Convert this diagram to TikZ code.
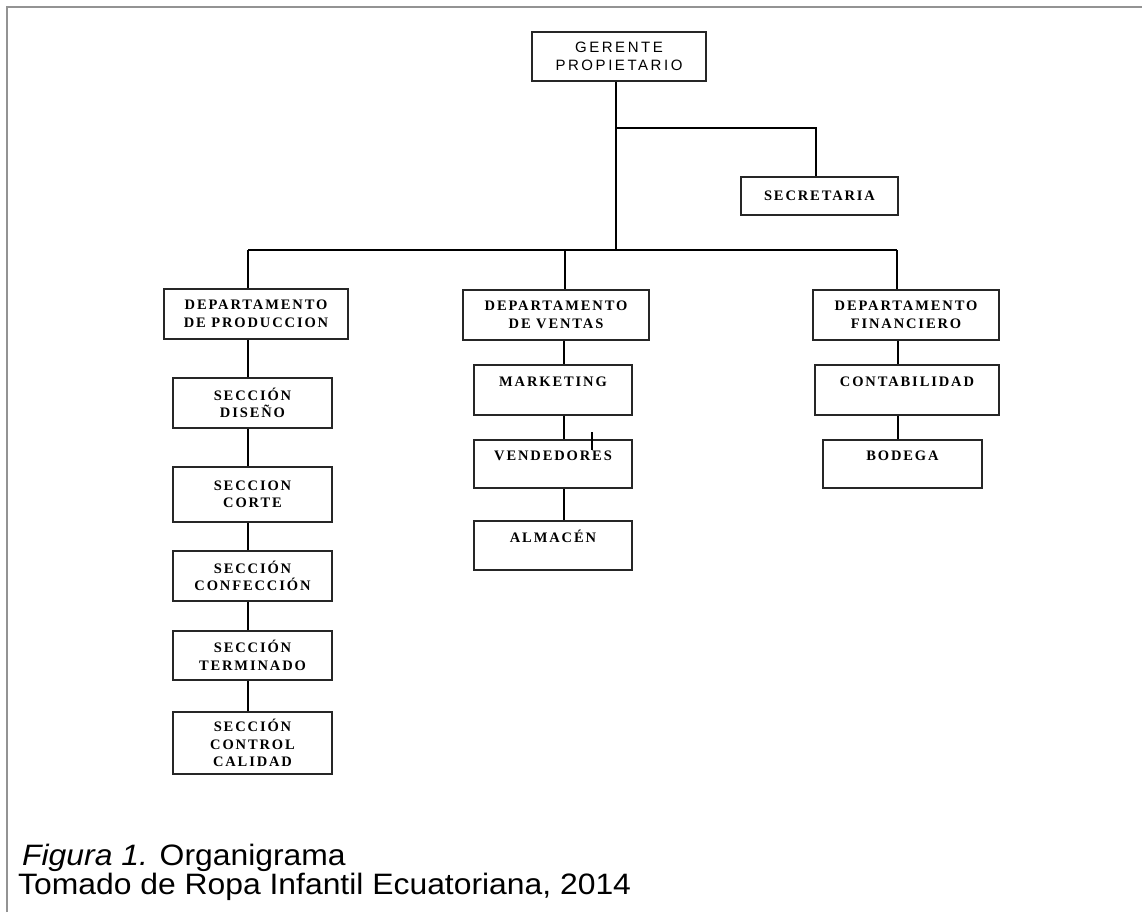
\documentclass[tikz,border=0pt]{standalone}
\usepackage{fontspec}
\setmainfont{Liberation Serif}
\newfontfamily\boxfont[LetterSpace=13]{Liberation Serif}
\newfontfamily\headfont[LetterSpace=17]{Liberation Sans}
\newfontfamily\capfont[FakeStretch=1.08]{Liberation Sans}
\begin{document}
\begin{tikzpicture}[x=1pt,y=-1pt,
  orgbox/.style={draw=black!85, line width=1.3pt, fill=white, inner sep=0pt,
    align=center, text=black, font=\boxfont\bfseries\fontsize{14.5}{17.5}\selectfont},
  headbox/.style={orgbox, font=\headfont\fontsize{15}{18}\selectfont},
  caption/.style={anchor=base west, inner sep=0pt, font=\capfont\fontsize{29.5}{29}\selectfont},
  link/.style={line width=1.3pt, black}]
\useasboundingbox (0,0) rectangle (1142,912);
% page frame
\draw[gray!85, line width=2pt] (7,912) -- (7,7) -- (1142,7);

% boxes
\node[headbox, minimum width=174, minimum height=49] (ger) at (619,56.5) {GERENTE\\PROPIETARIO};
\node[orgbox, minimum width=157, minimum height=38] (sec) at (819.5,196) {SECRETARIA};
\node[orgbox, minimum width=184, minimum height=50] (dprod) at (256,314) {DEPARTAMENTO\\DE PRODUCCION};
\node[orgbox, minimum width=186, minimum height=50] (dven) at (556,315) {DEPARTAMENTO\\DE VENTAS};
\node[orgbox, minimum width=186, minimum height=50] (dfin) at (906,315) {DEPARTAMENTO\\FINANCIERO};

\node[orgbox, minimum width=159, minimum height=50] (sdis) at (252.5,403) {SECCIÓN\\DISEÑO};
\node[orgbox, minimum width=159, minimum height=55] (scor) at (252.5,494.5) {SECCION\\CORTE};
\node[orgbox, minimum width=159, minimum height=50] (scon) at (252.5,576) {SECCIÓN\\CONFECCIÓN};
\node[orgbox, minimum width=159, minimum height=49] (ster) at (252.5,655.5) {SECCIÓN\\TERMINADO};
\node[orgbox, minimum width=159, minimum height=62] (scal) at (252.5,743) {SECCIÓN\\CONTROL\\CALIDAD};

\node[orgbox, minimum width=158, minimum height=50] (mkt) at (553,390) {MARKETING\\\mbox{}};
\node[orgbox, minimum width=158, minimum height=48] (vend) at (553,464) {VENDEDORES\\\mbox{}};
\node[orgbox, minimum width=158, minimum height=49] (alm) at (553,545.5) {ALMACÉN\\\mbox{}};

\node[orgbox, minimum width=184, minimum height=50] (cont) at (907,390) {CONTABILIDAD\\\mbox{}};
\node[orgbox, minimum width=159, minimum height=48] (bod) at (902.5,464) {BODEGA\\\mbox{}};

% junction points and column lines
\coordinate (j1) at (616,128);
\coordinate (s1) at (816,128);
\coordinate (j2) at (616,250);
\coordinate (hl) at (248,250);
\coordinate (hm) at (565,250);
\coordinate (hr) at (897,250);
\coordinate (colP) at (248,0);
\coordinate (colV) at (564,0);
\coordinate (colF) at (898,0);

% top level
\draw[link] (ger.south -| j1) -- (j2);
\draw[link] (j1) -- (s1) -- (sec.north -| s1);
\draw[link] (hl) -- (hr);
\draw[link] (hl) -- (dprod.north -| hl);
\draw[link] (hm) -- (dven.north -| hm);
\draw[link] (hr) -- (dfin.north -| hr);

% production column
\draw[link] (dprod.south -| colP) -- (sdis.north -| colP);
\draw[link] (sdis.south -| colP) -- (scor.north -| colP);
\draw[link] (scor.south -| colP) -- (scon.north -| colP);
\draw[link] (scon.south -| colP) -- (ster.north -| colP);
\draw[link] (ster.south -| colP) -- (scal.north -| colP);

% sales column
\draw[link] (dven.south -| colV) -- (mkt.north -| colV);
\draw[link] (mkt.south -| colV) -- (vend.north -| colV);
\draw[link] (vend.south -| colV) -- (alm.north -| colV);

% finance column
\draw[link] (dfin.south -| colF) -- (cont.north -| colF);
\draw[link] (cont.south -| colF) -- (bod.north -| colF);

% text cursor mark
\draw[line width=2.5pt] (592,432) -- (592,450);

% caption
\node[caption] (cap1) at (22,865) {\textit{Figura 1.} Organigrama};
\node[caption] (cap2) at (18,894) {Tomado de Ropa Infantil Ecuatoriana, 2014};
\end{tikzpicture}
\end{document}
